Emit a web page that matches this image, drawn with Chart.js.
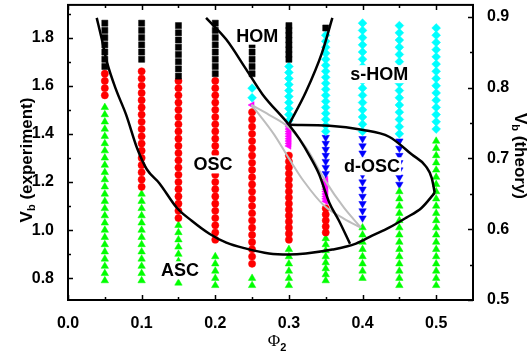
<!DOCTYPE html>
<html>
<head>
<meta charset="utf-8">
<script src="https://cdn.jsdelivr.net/npm/chart.js@4/dist/chart.umd.min.js"></script>
<style>
  body { margin: 0; background: #fff; }
  #wrap { width: 531px; height: 360px; }
</style>
</head>
<body>
<div id="wrap"><canvas id="phaseChart" width="531" height="360"></canvas></div>
<script>
const phi = [0.05, 0.1, 0.15, 0.2, 0.25, 0.3, 0.35, 0.4, 0.45, 0.5];

// measured Vb per phi column, one array per observed state
const homVb = [
  [1.86, 1.83, 1.80, 1.77, 1.74, 1.71, 1.68],
  [1.86, 1.83, 1.80, 1.77, 1.74, 1.71],
  [1.85, 1.82, 1.79, 1.76, 1.73, 1.70, 1.67, 1.64],
  [1.86, 1.83, 1.80, 1.77, 1.74, 1.71, 1.68, 1.65],
  [1.80, 1.77, 1.74, 1.71, 1.68, 1.65],
  [1.85, 1.83, 1.81, 1.79, 1.77, 1.75, 1.73, 1.71],
  [1.84],
  [], [], []
];
const oscVb = [
  [1.65, 1.62, 1.59, 1.56],
  [1.66, 1.63, 1.60, 1.57, 1.54, 1.51, 1.48, 1.45, 1.42, 1.39, 1.36, 1.33, 1.30, 1.27, 1.24, 1.21, 1.18],
  [1.62, 1.59, 1.56, 1.53, 1.50, 1.47, 1.44, 1.41, 1.38, 1.35, 1.32, 1.29, 1.26, 1.23, 1.20, 1.17, 1.14, 1.11, 1.08, 1.05],
  [1.62, 1.59, 1.56, 1.53, 1.50, 1.47, 1.44, 1.41, 1.38, 1.35, 1.32, 1.29, 1.26, 1.23, 1.20, 1.17, 1.14, 1.11, 1.08, 1.05, 1.02, 0.99, 0.96],
  [1.49, 1.46, 1.43, 1.40, 1.37, 1.34, 1.31, 1.28, 1.25, 1.22, 1.19, 1.16, 1.13, 1.10, 1.07, 1.04, 1.01, 0.98, 0.95, 0.92, 0.89, 0.86],
  [1.31, 1.285, 1.26, 1.235, 1.21, 1.185, 1.16, 1.135, 1.11, 1.085, 1.06, 1.035, 1.01, 0.985, 0.96],
  [1.09, 1.065, 1.04, 1.015, 0.99],
  [], [], []
];
const ascVb = [
  [1.51, 1.48, 1.45, 1.42, 1.39, 1.36, 1.33, 1.30, 1.27, 1.24, 1.21, 1.18, 1.15, 1.12, 1.09, 1.06, 1.03, 1.00, 0.97, 0.94, 0.91, 0.88, 0.85, 0.82, 0.79],
  [1.15, 1.12, 1.09, 1.06, 1.03, 1.00, 0.97, 0.94, 0.91, 0.88, 0.85, 0.82, 0.79],
  [1.02, 0.99, 0.96, 0.93, 0.90, 0.87, 0.84, 0.81, 0.78],
  [0.89, 0.86, 0.83, 0.80, 0.77],
  [0.80, 0.77],
  [0.92, 0.89, 0.86, 0.83, 0.80, 0.77],
  [0.965, 0.94, 0.915, 0.89, 0.865, 0.84, 0.815, 0.79],
  [1.01, 0.98, 0.95, 0.92, 0.89, 0.86, 0.83, 0.80],
  [1.16, 1.13, 1.10, 1.07, 1.04, 1.01, 0.98, 0.95, 0.92, 0.89, 0.86, 0.83, 0.80, 0.77],
  [1.37, 1.34, 1.31, 1.28, 1.25, 1.22, 1.19, 1.16, 1.13, 1.10, 1.07, 1.04, 1.01, 0.98, 0.95, 0.92, 0.89, 0.86, 0.83, 0.80, 0.77]
];
const sHomVb = [
  [], [], [], [],
  [1.59, 1.55],
  [1.68, 1.655, 1.63, 1.605, 1.58, 1.555, 1.53, 1.505, 1.48, 1.455],
  [1.81, 1.785, 1.76, 1.735, 1.71, 1.685, 1.66, 1.635, 1.61, 1.585, 1.56, 1.535, 1.51, 1.485, 1.46, 1.435, 1.41],
  [1.86, 1.83, 1.80, 1.77, 1.74, 1.71, 1.68, 1.65, 1.62, 1.59, 1.56, 1.53, 1.50, 1.47, 1.44, 1.41],
  [1.85, 1.82, 1.79, 1.76, 1.73, 1.70, 1.67, 1.64, 1.61, 1.58, 1.55, 1.52, 1.49, 1.46, 1.43, 1.40],
  [1.84, 1.81, 1.78, 1.75, 1.72, 1.69, 1.66, 1.63, 1.60, 1.57, 1.54, 1.51, 1.48, 1.45, 1.42]
];
const dOscVb = [
  [], [], [], [], [], [],
  [1.385, 1.36, 1.335, 1.31, 1.285, 1.26, 1.235],
  [1.38, 1.35, 1.32, 1.29, 1.26, 1.23, 1.20, 1.17, 1.14, 1.11, 1.08, 1.05],
  [1.37, 1.34, 1.31, 1.28, 1.25, 1.22, 1.19],
  []
];
const mixVb = [
  [], [], [], [],
  [1.52],
  [1.44, 1.43, 1.42, 1.41, 1.40, 1.39, 1.38, 1.37, 1.36, 1.35],
  [1.21, 1.20, 1.19, 1.18, 1.17, 1.16, 1.15, 1.14, 1.13, 1.12],
  [], [], []
];

// boundary curves [phi, Vb]
const mainBoundary = [
  [0.039, 1.882], [0.046, 1.792], [0.053, 1.697], [0.065, 1.586], [0.079, 1.479],
  [0.094, 1.339], [0.107, 1.253], [0.124, 1.195], [0.148, 1.092], [0.168, 1.039],
  [0.192, 0.985], [0.215, 0.948], [0.242, 0.923], [0.273, 0.903], [0.300, 0.899],
  [0.323, 0.903], [0.359, 0.919], [0.391, 0.944], [0.413, 0.977], [0.436, 1.010],
  [0.459, 1.051], [0.480, 1.092], [0.498, 1.155]
];
const dOscTop = [
  [0.300, 1.438], [0.355, 1.434], [0.399, 1.417], [0.436, 1.388], [0.467, 1.314],
  [0.486, 1.265], [0.494, 1.216], [0.498, 1.155]
];
const homBoundary = [
  [0.1875, 1.882], [0.215, 1.792], [0.242, 1.668], [0.264, 1.565], [0.300, 1.438],
  [0.314, 1.380], [0.330, 1.298], [0.341, 1.232], [0.355, 1.113], [0.368, 1.039], [0.383, 0.943]
];
const sHomBoundary = [[0.300, 1.438], [0.323, 1.574], [0.345, 1.738], [0.359, 1.882]];
const grayUpper = [
  [0.249, 1.520], [0.273, 1.479], [0.300, 1.426], [0.325, 1.335], [0.348, 1.212],
  [0.375, 1.092], [0.398, 1.010]
];
const grayLower = [
  [0.249, 1.520], [0.262, 1.471], [0.280, 1.397], [0.300, 1.298], [0.320, 1.204],
  [0.348, 1.101], [0.375, 1.047], [0.398, 1.010]
];

const xTicks = [0.0, 0.1, 0.2, 0.3, 0.4, 0.5];
const xMinor = [0.05, 0.15, 0.25, 0.35, 0.45];
const yTicks = [0.8, 1.0, 1.2, 1.4, 1.6, 1.8];
const yMinor = [0.9, 1.1, 1.3, 1.5, 1.7, 1.9];
const y2Ticks = [0.5, 0.6, 0.7, 0.8, 0.9];
const y2Minor = [0.55, 0.65, 0.75, 0.85];

const regionLabels = [
  { text: "HOM", x: 0.257, y: 1.808 },
  { text: "s-HOM", x: 0.4226, y: 1.648 },
  { text: "OSC", x: 0.197, y: 1.273 },
  { text: "d-OSC", x: 0.413, y: 1.265 },
  { text: "ASC", x: 0.152, y: 0.833 }
];

const FONT = '"Liberation Sans", Arial, Helvetica, sans-serif';

function toPoints(cols) {
  return phi.flatMap((p, i) => cols[i].map((v) => ({ x: p, y: v })));
}
function toLine(pairs) {
  return pairs.map(([x, y]) => ({ x, y }));
}

function markerSet(label, cols, color, style, radius, rotation) {
  return {
    label,
    data: toPoints(cols),
    backgroundColor: color,
    borderColor: color,
    pointStyle: style,
    pointRadius: radius,
    pointRotation: rotation || 0,
    pointBorderWidth: 0.5,
    showLine: false,
    order: 3,
  };
}
function curveSet(label, pairs, color, width, order) {
  return {
    label,
    data: toLine(pairs),
    borderColor: color,
    borderWidth: width,
    showLine: true,
    pointRadius: 0,
    cubicInterpolationMode: "monotone",
    order,
  };
}

function drawRich(ctx, parts, cx, cy, rot) {
  ctx.save();
  ctx.translate(cx, cy);
  ctx.rotate(rot);
  let total = 0;
  parts.forEach((p) => {
    ctx.font = p.font;
    total += ctx.measureText(p.text).width;
  });
  let x = -total / 2;
  ctx.textBaseline = "middle";
  ctx.textAlign = "left";
  ctx.fillStyle = "#000";
  parts.forEach((p) => {
    ctx.font = p.font;
    ctx.fillText(p.text, x, p.dy);
    x += ctx.measureText(p.text).width;
  });
  ctx.restore();
}

const decorPlugin = {
  id: "decor",
  afterDatasetsDraw(chart) {
    const ctx = chart.ctx;
    const xs = chart.scales.x, ys = chart.scales.y;
    ctx.save();
    ctx.font = "bold 18px " + FONT;
    ctx.textAlign = "center";
    ctx.textBaseline = "middle";
    regionLabels.forEach((l) => {
      const px = xs.getPixelForValue(l.x);
      const py = ys.getPixelForValue(l.y);
      const w = ctx.measureText(l.text).width;
      ctx.fillStyle = "#fff";
      ctx.fillRect(px - w / 2 - 1, py - 9, w + 2, 18);
      ctx.fillStyle = "#000";
      ctx.fillText(l.text, px, py + 1);
    });
    ctx.restore();
  },
  afterDraw(chart) {
    const ctx = chart.ctx;
    const a = chart.chartArea;
    const xs = chart.scales.x, ys = chart.scales.y, y2 = chart.scales.y2;
    ctx.save();
    ctx.strokeStyle = "#000";
    ctx.lineWidth = 2;
    ctx.strokeRect(a.left, a.top, a.right - a.left, a.bottom - a.top);
    ctx.lineWidth = 1.5;
    ctx.beginPath();
    const xMarks = xTicks.map((v) => [v, 5]).concat(xMinor.map((v) => [v, 3]));
    xMarks.forEach(([v, len]) => {
      const px = Math.round(xs.getPixelForValue(v)) + 0.5;
      ctx.moveTo(px, a.bottom);
      ctx.lineTo(px, a.bottom - len);
      ctx.moveTo(px, a.top);
      ctx.lineTo(px, a.top + len);
    });
    const yMarks = yTicks.map((v) => [v, 5]).concat(yMinor.map((v) => [v, 3]));
    yMarks.forEach(([v, len]) => {
      const py = Math.round(ys.getPixelForValue(v)) + 0.5;
      if (py < a.top + 2) return;
      ctx.moveTo(a.left, py);
      ctx.lineTo(a.left + len, py);
    });
    const y2Marks = y2Ticks.map((v) => [v, 5]).concat(y2Minor.map((v) => [v, 3]));
    y2Marks.forEach(([v, len]) => {
      const py = Math.round(y2.getPixelForValue(v)) + 0.5;
      ctx.moveTo(a.right, py);
      ctx.lineTo(a.right - len, py);
    });
    ctx.stroke();
    ctx.restore();

    const big = "bold 17px " + FONT;
    const sub = "bold 11px " + FONT;
    drawRich(ctx, [
      { text: "V", font: big, dy: 0 },
      { text: "b", font: sub, dy: 5 },
      { text: " (experiment)", font: big, dy: 0 },
    ], 27, 160, -Math.PI / 2);
    drawRich(ctx, [
      { text: "V", font: big, dy: 0 },
      { text: "b", font: sub, dy: 5 },
      { text: " (theory)", font: big, dy: 0 },
    ], 520, 156, Math.PI / 2);
    drawRich(ctx, [
      { text: "\u03A6", font: '17px "Liberation Serif", "DejaVu Serif", serif', dy: 0 },
      { text: "2", font: "bold 11px " + FONT, dy: 6 },
    ], 277, 342, 0);
  },
};

function fixedTicks(list) {
  return (scale) => {
    scale.ticks = list.map((v) => ({ value: v }));
  };
}
function fixedSize(prop, size) {
  return (scale) => {
    scale[prop] = size;
    scale.paddingTop = 0;
    scale.paddingBottom = 0;
    scale.paddingLeft = 0;
    scale.paddingRight = 0;
  };
}
const tickFont = { family: FONT, size: 16, weight: "bold" };

const ctx = document.getElementById("phaseChart");
new Chart(ctx, {
  type: "scatter",
  data: {
    datasets: [
      curveSet("main boundary", mainBoundary, "#000", 2.5, 0),
      curveSet("d-OSC boundary", dOscTop, "#000", 2.5, 0),
      curveSet("HOM boundary", homBoundary, "#000", 2.5, 0),
      curveSet("s-HOM boundary", sHomBoundary, "#000", 2.5, 0),
      curveSet("upper", grayUpper, "#bdbdbd", 2, 1),
      curveSet("lower", grayLower, "#bdbdbd", 2, 1),
      markerSet("HOM", homVb, "#000000", "rect", 4.3),
      markerSet("OSC", oscVb, "#ff0000", "circle", 3.6),
      markerSet("ASC", ascVb, "#00ff00", "triangle", 4.3),
      markerSet("s-HOM", sHomVb, "#00ffff", "rectRot", 4.4),
      markerSet("d-OSC", dOscVb, "#0000ff", "triangle", 4.3, 180),
      markerSet("mixed", mixVb, "#ff00ff", "triangle", 4.0, 270),
    ],
  },
  options: {
    responsive: false,
    animation: false,
    layout: { padding: { top: 2, left: 0, right: 0, bottom: 0 } },
    plugins: { legend: { display: false }, tooltip: { enabled: false } },
    scales: {
      x: {
        type: "linear",
        position: "bottom",
        min: 0,
        max: 0.55,
        afterBuildTicks: fixedTicks(xTicks),
        afterFit: fixedSize("height", 60),
        grid: { display: false },
        border: { display: false },
        ticks: { color: "#000", font: tickFont, padding: 6, maxRotation: 0, callback: (v) => v.toFixed(1) },
      },
      y: {
        type: "linear",
        position: "left",
        min: 0.7095,
        max: 1.936,
        afterBuildTicks: fixedTicks(yTicks),
        afterFit: fixedSize("width", 68),
        grid: { display: false },
        border: { display: false },
        ticks: { color: "#000", font: tickFont, padding: 6, callback: (v) => v.toFixed(1) },
      },
      y2: {
        type: "linear",
        position: "right",
        min: 0.5,
        max: 0.917,
        afterBuildTicks: fixedTicks(y2Ticks),
        afterFit: fixedSize("width", 58),
        grid: { display: false },
        border: { display: false },
        ticks: { color: "#000", font: tickFont, padding: 6, callback: (v) => v.toFixed(1) },
      },
    },
  },
  plugins: [decorPlugin],
});
</script>
</body>
</html>
